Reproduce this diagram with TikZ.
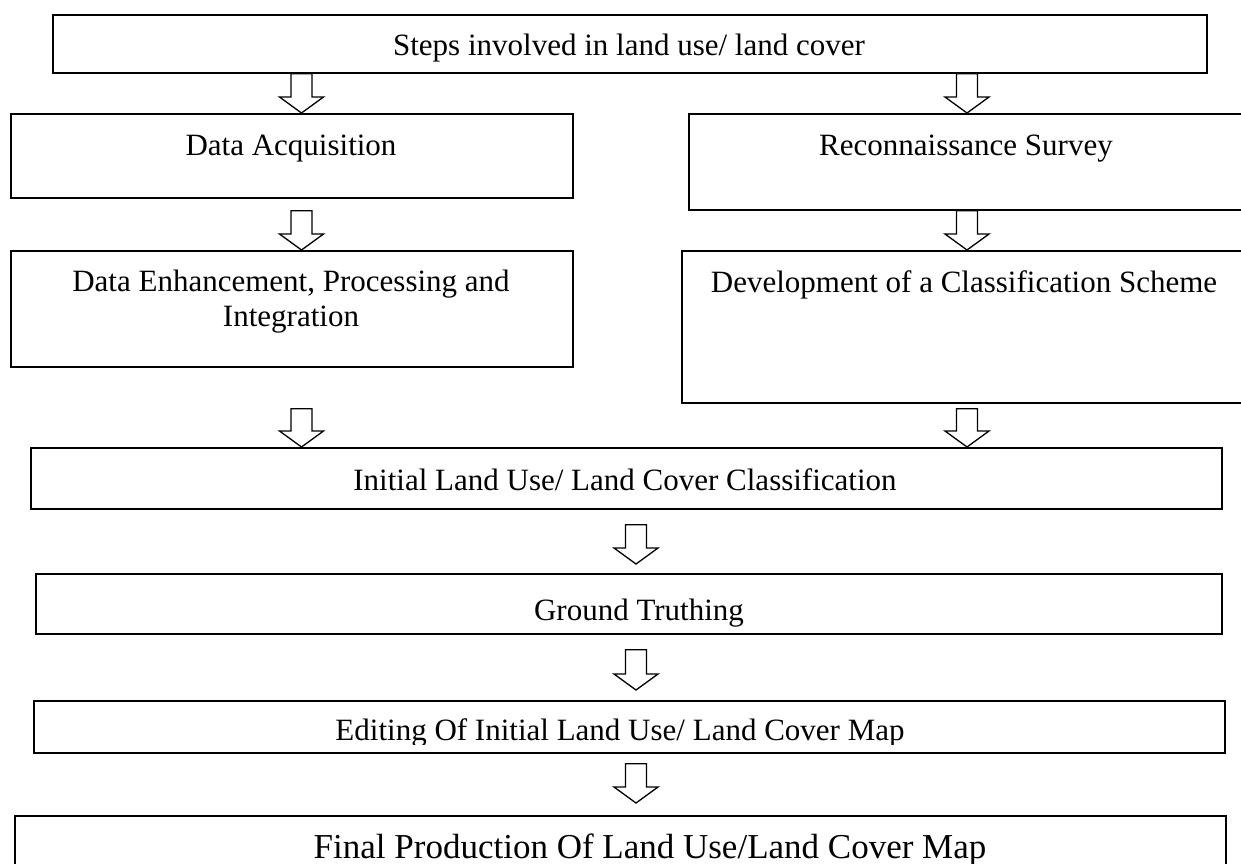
\documentclass[tikz,border=0pt]{standalone}
\usepackage{fontspec}
\setmainfont{Liberation Serif}
\usetikzlibrary{calc}
\begin{document}
\begin{tikzpicture}[x=1pt,y=-1pt,
  box/.style={draw, line width=1.8pt, inner sep=0pt, anchor=north west},
  lbl/.style={font=\fontsize{31}{35}\selectfont, inner sep=0pt, anchor=base, align=center},
  barrow/.style={draw, line width=1.3pt, line join=miter, to path={
     let \p1=(\tikztostart), \p2=(\tikztotarget) in
     (\x1-10.5pt,\y1) -- (\x1-10.5pt,\y2+16pt) -- (\x1-22pt,\y2+16pt) -- (\x1,\y2)
     -- (\x1+22pt,\y2+16pt) -- (\x1+10.5pt,\y2+16pt) -- (\x1+10.5pt,\y1) -- cycle}}
]
\clip (0,0) rectangle (1241,863);
\fill[white] (0,0) rectangle (1241,863);
\coordinate (xl) at (301.5,0);
\coordinate (xr) at (967,0);
\coordinate (xc) at (636,0);

% boxes
\node[box, minimum width=1154pt, minimum height=58pt] (top) at (52,14) {};
\node[box, minimum width=562pt, minimum height=84pt] (da) at (10,113) {};
\node[box, minimum width=560pt, minimum height=96pt] (rs) at (688,113) {};
\node[box, minimum width=562pt, minimum height=116pt] (de) at (10,250) {};
\node[box, minimum width=567pt, minimum height=152pt] (dev) at (681,250) {};
\node[box, minimum width=1191pt, minimum height=61pt] (init) at (30,447) {};
\node[box, minimum width=1186pt, minimum height=60pt] (gt) at (35,573) {};
\node[box, minimum width=1191pt, minimum height=52pt] (ed) at (33,700) {};
\node[box, minimum width=1211pt, minimum height=60pt] (fin) at (14,815) {};

% texts
\node[lbl] (topt) at (629,55) {Steps involved in land use/ land cover};
\node[lbl] (dat) at (291,155) {Data Acquisition};
\node[lbl] (rst) at (966,155) {Reconnaissance Survey};
\node[lbl] (det) at (291,326) {Data Enhancement, Processing and\\Integration};
\node[lbl] (devt) at (964,292) {Development of a Classification Scheme};
\node[lbl] (initt) at (625,490) {Initial Land Use/ Land Cover Classification};
\node[lbl] (gtt) at (639,620) {Ground Truthing};
\begin{scope}
\clip (33,700) rectangle (1224,744);
\node[lbl] (edt) at (620,740) {Editing Of Initial Land Use/ Land Cover Map};
\end{scope}
\node[lbl, font=\fontsize{35}{40}\selectfont] (fint) at (650,858) {Final Production Of Land Use/Land Cover Map};

% block arrows
\draw[barrow] (top.south -| xl) to (da.north -| xl);
\draw[barrow] (top.south -| xr) to (rs.north -| xr);
\draw[barrow] ($(da.south -| xl)+(0,12)$) to (de.north -| xl);
\draw[barrow] (rs.south -| xr) to (dev.north -| xr);
\draw[barrow] ($(de.south -| xl)+(0,41)$) to (init.north -| xl);
\draw[barrow] ($(dev.south -| xr)+(0,5)$) to (init.north -| xr);
\draw[barrow] ($(init.south -| xc)+(0,15)$) to ($(gt.north -| xc)+(0,-9)$);
\draw[barrow] ($(gt.south -| xc)+(0,15)$) to ($(ed.north -| xc)+(0,-10)$);
\draw[barrow] ($(ed.south -| xc)+(0,10)$) to ($(fin.north -| xc)+(0,-12)$);
\end{tikzpicture}
\end{document}
